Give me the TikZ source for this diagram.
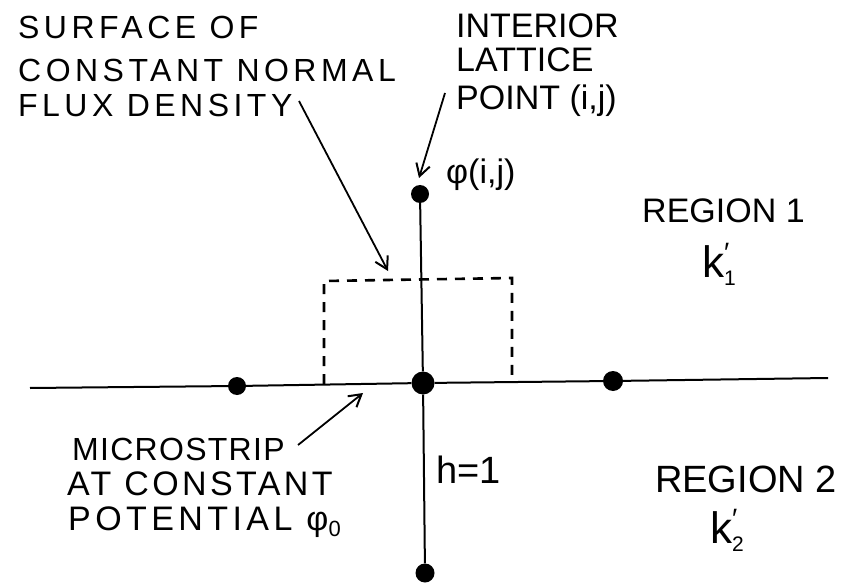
\documentclass[tikz,border=0pt]{standalone}
\usepackage{fontspec}
\newfontfamily\handA[LetterSpace=14]{Liberation Sans}
\newfontfamily\handB[LetterSpace=4]{Liberation Sans}
\newfontfamily\handC[LetterSpace=10]{Liberation Sans}
\newfontfamily\handD[LetterSpace=13]{Liberation Sans}
\newfontfamily\handplain{Liberation Sans}
\usetikzlibrary{arrows.meta}
\tikzset{
  lbl/.style={anchor=base west, inner sep=0pt},
  surf/.style={lbl, font=\handA\fontsize{32}{32}\selectfont},
  plain/.style={lbl, font=\handplain\fontsize{34}{34}\selectfont},
  dot/.style={circle, fill=black, inner sep=0pt},
  wire/.style={line width=2pt, black},
  pointer/.style={line width=1.8pt, black, -{Straight Barb[length=12pt,width=14pt,line width=2pt]}},
  fluxbox/.style={line width=2.6pt, dash pattern=on 10pt off 8pt}
}
\newcommand{\kval}[1]{{\handplain\fontsize{44}{44}\selectfont k\rlap{\raisebox{15pt}{\fontsize{28}{28}\selectfont ′}}\raisebox{-8pt}{\fontsize{21}{21}\selectfont #1}}}
\begin{document}
\begin{tikzpicture}[x=1pt,y=-1pt]
\useasboundingbox (0,0) rectangle (845,585);
% lattice
\coordinate (lend) at (30,388);
\coordinate (rend) at (828,378);
\node[dot, minimum size=18pt] (top) at (420,194) {};
\node[dot, minimum size=23pt] (C) at (423,383) {};
\node[dot, minimum size=18pt] (L) at (237,386) {};
\node[dot, minimum size=20pt] (R) at (613,381) {};
\node[dot, minimum size=19pt] (bot) at (425,573) {};
\draw[wire] (lend) -- (L) -- (C) -- (R) -- (rend);
\draw[wire] (top) -- (C) -- (bot);
% dashed surface
\draw[fluxbox] (324,384) -- (324,281) -- (512,278) -- (512,381);
% labels
\node[surf] (s1) at (18,39) {SURFACE OF};
\node[surf] (s2) at (18,82) {CONSTANT NORMAL};
\node[surf] (s3) at (18,117) {FLUX DENSITY};
\node[plain] (i1) at (456,38) {INTERIOR};
\node[plain] (i2) at (456,72) {LATTICE};
\node[plain] (i3) at (456,110) {POINT (i,j)};
\node[plain] (phi) at (446,184) {φ(i,j)};
\node[plain] (r1) at (642,223) {REGION 1};
\node[lbl] (k1) at (702,277) {\kval{1}};
\node[lbl, font=\handB\fontsize{32}{32}\selectfont] (m1) at (72,460) {MICROSTRIP};
\node[lbl, font=\handC\fontsize{34}{34}\selectfont] (m2) at (67,495) {AT CONSTANT};
\node[lbl, font=\handD\fontsize{34}{34}\selectfont] (m3) at (68,530) {POTENTIAL\hspace{14pt}φ\raisebox{-6pt}{\fontsize{22}{22}\selectfont 0}};
\node[lbl, font=\handplain\fontsize{38}{38}\selectfont] (h) at (436,483) {h=1};
\node[lbl, font=\handplain\fontsize{38}{38}\selectfont] (r2) at (655,492) {REGION 2};
\node[lbl] (k2) at (710,543) {\kval{2}};
% pointers
\coordinate (a1s) at (299,101);
\coordinate (a1e) at (388,271);
\draw[pointer] (a1s) -- (a1e);
\coordinate (a2s) at (445,93);
\coordinate (a2e) at (419,178);
\draw[pointer] (a2s) -- (a2e);
\coordinate (a3s) at (298,445);
\coordinate (a3e) at (363,393);
\draw[pointer] (a3s) -- (a3e);
\end{tikzpicture}
\end{document}
